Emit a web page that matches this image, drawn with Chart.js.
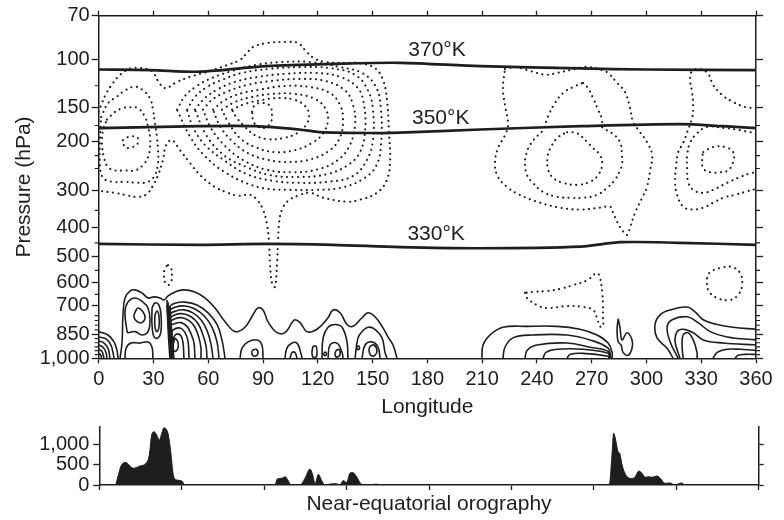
<!DOCTYPE html>
<html lang="en">
<head>
<meta charset="UTF-8" />
<title>Near-equatorial cross-section</title>
<script src="https://cdn.jsdelivr.net/npm/chart.js@4"></script>
<style>
  html, body { margin: 0; padding: 0; background: #fff; }
  #wrap { position: relative; width: 784px; height: 520px; }
  #top { position: absolute; left: 0; top: 0; width: 784px; height: 420px; }
  #bottom { position: absolute; left: 0; top: 420px; width: 784px; height: 100px; }
</style>
</head>
<body>
<div id="wrap">
  <div id="top"><canvas id="section"></canvas></div>
  <div id="bottom"><canvas id="orography"></canvas></div>
</div>
<script>
// ---- axis levels ----
const P_LABELLED = [70, 100, 150, 200, 300, 400, 500, 600, 700, 850, 1000];
const P_LEVELS = [70, 100, 125, 150, 175, 200, 225, 250, 300, 350, 400, 450, 500, 550, 600, 650,
  700, 750, 775, 800, 825, 850, 875, 900, 925, 950, 975, 1000];
// where the labelled levels sit along the pressure axis (0 = top, 1 = bottom)
const P_AXIS_FRAC = [0, 0.1273, 0.2674, 0.3666, 0.5108, 0.6176, 0.7034, 0.7793, 0.8453, 0.9299, 1];
const ORO_TICKS = [0, 500, 1000];

// ---- isentropes [lon, hPa] ----
const TH370 = [[0,109],[28,109.5],[55.5,111],[92,106],[128,104],[165,103],[209,106],[264,108],[300,109],[360,109.5]];
const TH350 = [[0,179],[55,176],[86,176],[110,181],[121,185],[154,186.5],[165,186],[209,181],[264,176],[318,173],[342,176],[360,179]];
const TH330 = [[0,454],[55,457],[92,454],[128,457],[165,465],[209,469],[264,463],[286,448],[318,450],[360,457]];
const THETA_LABELS = ['370°K', '350°K', '330°K'];
const THETA_LABEL_AT = [[185.3, 92.5], [187.3, 163.9], [184.8, 420]];

// ---- dotted (negative) contours [lon, hPa] ----
const W1 = [[13.3,198],[16,193],[21,193],[21.5,203],[18.2,210],[14.4,210]];
const W2 = [[4.5,166.5],[8.9,156],[13.3,151],[17.1,150],[21.5,151],[25.4,163],[27,177],[28.1,193],[28.1,210],[27,228],[24.3,243],[19.9,254],[14.4,254],[8.9,254],[5.1,247],[2.9,228],[1.8,203],[2.4,182]];
const W3 = [[1.3,163],[5.1,145],[10,137],[14.4,130],[19.9,126],[24.3,130],[28.1,139],[29.7,153],[30.8,171],[31.9,193],[32.5,215],[32.5,239],[30.8,264],[27,279],[21.5,281],[14.4,279],[7.8,279],[2.4,270],[0.7,243],[0.7,198]];
const OUTER = [[0,155.8],[1.8,144.6],[4,134],[6.7,125.2],[10.6,116],[14.4,110.4],[18.2,107.7],[22.6,107.7],[26.5,108.6],[29.7,111.3],[32.5,120],[36.3,127.6],[42.9,121],[50,116],[59.3,111.3],[70.3,105],[77.4,100.5],[81.2,94.9],[84.5,90.5],[92.2,87.5],[103.1,86.8],[109.2,87.5],[113,92.7],[117.4,98.6],[124,102.3],[136,103.1],[142,103.1],[151.3,107.7],[155.7,119],[157.9,141],[159,186.8],[159.6,233],[157.9,274],[152.4,305],[143.1,322],[136,327],[122.9,317],[115.7,305],[109.2,312],[103.7,325],[100.4,348],[98.8,386],[98.2,451],[97.7,523],[97.1,590],[96.5,618],[94.9,602],[93.8,523],[93.3,451],[92.2,392],[90,348],[86.7,322],[82.9,310],[76.3,312],[70.8,305],[63.7,291],[55.5,264],[50,239],[44.5,215],[40.1,198],[36.9,206],[35.2,233],[32.5,264],[29.7,288],[26.5,307.6],[21.5,315],[14.4,310],[8.9,305],[5.1,303],[0,300]];
const K1 = [[84,155.8],[85.6,147],[90,144.6],[93.8,148.3],[94.9,160],[93.8,172.5],[89.4,178.8],[85.1,171]];
const K2 = [[73,153],[80.1,145.8],[89.4,141],[99.3,138.6],[107.5,141],[113,148.3],[115.2,160],[113.6,174],[108.6,186.8],[100.9,194.8],[92.7,196.4],[85.6,190],[79,174],[75.2,162.6]];
const K3 = [[67.5,153],[74.7,143.4],[84,137.4],[94.9,134],[107.5,134],[118.5,139.8],[124,151],[125.6,166.5],[122.9,186.8],[116.8,202.8],[107.5,215],[96.5,218.6],[85.6,209.6],[77.4,194.8],[70.8,169.5]];
const K4 = [[62.6,153],[69.2,141],[78.5,133],[89.4,128.8],[102,125.2],[115.7,126.4],[126.7,133],[132.2,147],[133.8,166.5],[132.2,193.2],[126.7,215],[116.8,231.2],[104.8,237],[92.7,233],[81.8,220.4],[73,199.6],[66.4,175.6]];
const K5 = [[57.1,153],[62.6,139.8],[70.8,131],[81.8,124],[94.9,120],[110.3,118],[124,120],[134.9,130],[139.3,147],[140.4,174],[137.6,206],[131.1,233],[120.1,251.8],[105.9,258],[91.1,251.8],[79,233],[69.2,207.8],[61.5,178.8]];
const K6 = [[52.7,153],[58.2,138.6],[65.3,128.8],[74.7,121],[87.2,116],[102,113.1],[118.5,112.2],[132.2,116],[142,127.6],[145.3,147],[145.9,182],[143.1,218.6],[136.5,243],[125,262],[109.2,268],[93.8,264],[81.2,247.4],[69.2,225.8],[59.3,191.6]];
const K7 = [[48.4,153],[52.7,137.4],[59.3,126.4],[67.5,119],[78.5,112.2],[92.7,108.6],[110.3,106.8],[126.7,107.7],[140.4,114],[147.5,130],[150.2,153],[150.2,198],[146.9,233],[139.3,266],[125.6,278.8],[109.2,281.2],[94.9,276.4],[81.2,262],[69.2,235],[58.2,206],[51.6,177.2]];
const K8 = [[42.9,153],[47.3,136.2],[53.8,125.2],[62.1,117],[73,110.4],[85.6,105],[100.4,102.3],[115.7,102.3],[132.2,106.8],[144.2,112.2],[151.9,126.4],[154.6,153],[154.6,206],[151.9,245.2],[144.2,274],[132.2,293.2],[118.5,298],[104.8,298],[92.7,295.6],[81.8,283.6],[69.2,258],[58.2,226],[50,192]];
const E1 = [[222.5,108.6],[228,106.8],[234.6,109.5],[240,112.2],[245.5,114],[251,112.2],[258.1,109.5],[265.3,106.8],[269.1,106.8],[275.7,109.5],[279,112.2],[283.9,122],[288.3,132],[291,151],[292.7,169.5],[296.5,185.2],[300.3,201.2],[303.1,224],[302,254],[300.3,290.8],[297.6,317.2],[293.8,356.4],[291,401.6],[289.4,424],[286.6,408],[283.9,382.4],[281.7,356.4],[280.1,340.2],[274.6,342.8],[263.6,348],[252.7,342.8],[241.7,329.8],[230.7,310],[223.6,290.8],[218.2,264],[217.1,237],[218.7,211.4],[222.5,190],[224.2,174],[222.5,147],[221.4,127.6]];
const E2 = [[265.3,122],[268,127.6],[270.7,138.6],[273.5,153],[275.7,166.5],[275.7,177.2],[281.2,186.8],[285.5,201.2],[286.6,224],[286.6,243],[285.5,254],[282.8,274],[278.4,293.2],[272.9,310],[265.3,317.2],[258.1,317.2],[251,314.8],[243.3,302.8],[237.8,281.2],[234.6,264],[233.5,243],[234,224],[236.2,206],[240.6,190],[243.3,182],[246,162.6],[249.9,144.6],[254.3,133],[259.8,126.4]];
const E3 = [[256.5,185.2],[262,186.8],[267.5,201.2],[270.7,211.4],[274.6,224],[275.7,243],[273.5,264],[269.1,278.8],[262,286],[254.3,281.2],[248.8,270],[246,249.6],[246,224],[248.3,206],[251.6,193.2]];
const E4 = [[360,151],[354,149.6],[347.5,143.4],[341.4,135],[336.5,124],[333.8,113.1],[329.4,108.6],[325,110.4],[323.9,119],[325,132],[325.6,147],[325,163.9],[322.3,185.2],[320.1,202.8],[317.4,218.6],[316.3,243],[315.7,281.2],[316.8,310],[320.1,340.2],[325,348],[331.1,342.8],[336.5,329.8],[342,317.2],[348.5,310],[354,302.8],[360,295.6]];
const E5 = [[360,186.8],[356.8,185.2],[351.3,182],[343.1,178.8],[333.2,177.2],[327.7,186.8],[323.9,202.8],[322.3,224],[322.3,249.6],[322.8,278.8],[325.6,298],[331.1,305.2],[336.5,298],[344.2,281.2],[350.2,270],[356.8,260],[360,258]];
const E6 = [[331.1,218.6],[336.5,209.6],[343.1,209.6],[347.5,218.6],[347.5,237],[344.7,254],[340.4,258],[334.9,258],[331.1,249.6],[330.5,229.6]];
const D1 = [[38,530],[39.6,541.5],[40.1,569],[39.6,598],[38,610],[36.3,598],[35.8,569],[36.3,541.5]];
const D3 = [[233.5,643],[234.6,666],[240,699],[245.5,713],[256.5,703.5],[265.3,708],[270.7,722],[272.9,761],[274.6,806],[276.2,806],[276.2,761],[276.2,699],[275.7,639],[274.6,581],[272.9,561],[267.5,590],[259.8,610],[252.7,626],[245.5,635],[237.8,639]];
const D4 = [[333.2,581],[334.9,557],[340.4,541.5],[346.9,537.7],[351.3,561],[352.4,610],[350.2,652],[345.8,675],[338.7,666],[333.8,630]];

// ---- solid (positive) contours [lon, hPa] ----
const SA1 = [[0,835],[5.1,854],[8.4,895],[10,948],[10.6,1000]];
const SA2 = [[0,866],[4,877],[6.7,914],[7.8,961],[8.4,1000]];
const SA3 = [[0,889],[2.9,902],[5.1,934],[6.2,1000]];
const SA4 = [[0,914],[2.4,928],[4,961],[4.5,1000]];
const SA5 = [[0,941],[1.8,954],[2.9,1000]];
const SA6 = [[0,967],[1.3,980],[1.5,1000]];
const S1 = [[11.7,1000],[12.8,895],[13.3,746],[14.4,666],[17.1,635],[19.9,630],[23.7,643],[27,666],[30.3,661],[33.6,666],[35.8,675],[38,656],[41.8,639],[46.2,630],[52.7,639],[58.2,666],[63.7,713],[69.2,781],[74.7,835],[80.1,811],[84.5,746],[87.2,713],[90,722],[92.7,781],[97.7,841],[102,841],[105.9,786],[107.5,771],[110.3,786],[114.1,835],[119.6,822],[125.6,761],[128.3,722],[132.2,736],[136,796],[139.3,806],[144.2,761],[147.5,736],[151.3,756],[155.2,806],[158.5,866],[161.2,914],[163.4,1000]];
const S1B = [[15.5,835],[14.4,732],[16,685],[19.9,666],[24.3,685],[27,713],[28.1,771],[27,835],[23.7,854],[19.9,835],[16,841]];
const S1C = [[19.9,732],[21.5,713],[24.3,732],[25.4,761],[23.7,786],[21,781],[19.3,756]];
const S1D = [[14.4,1000],[15,934],[17.7,902],[22.6,902],[27,895],[29.2,928],[29.7,1000]];
const NL1 = [[29.2,713],[30.8,689],[33,699],[34.1,746],[34.1,835],[32.5,871],[30.3,866],[29.2,796]];
const NL2 = [[30.8,746],[31.9,727],[33,751],[33,811],[31.9,835],[30.8,806]];
const A1 = [[40.7,1000],[39.6,822],[39,708],[42.3,689],[47.3,685],[53.8,699],[59.9,736.5],[64.8,796],[67.5,883],[69.2,1000]];
const A2 = [[40.7,1000],[39.6,835],[39,727],[42.3,708],[47.3,703.5],[52.7,717.6],[57.7,751],[62.1,811],[64.8,895],[65.9,1000]];
const A3 = [[40.7,1000],[39.6,848],[39,746],[42.3,727],[46.7,722],[51.6,736.5],[56,771],[59.3,828],[61.5,908],[62.6,1000]];
const A4 = [[40.7,1000],[39.6,860],[39,766],[41.8,746],[46.2,741],[50.6,756],[54.4,791],[57.1,854],[58.8,921],[59.3,1000]];
const A5 = [[40.7,1000],[39.6,871],[39,786],[41.8,766],[45.6,761],[49.5,776],[52.7,811],[54.9,871],[56,934],[56,1000]];
const A6 = [[40.7,1000],[39.6,889],[39,806],[41.8,791],[45.1,786],[48.4,806],[50.6,848],[52.2,902],[52.7,1000]];
const A7 = [[40.7,1000],[40.1,902],[40.1,835],[42.3,817],[45.1,817],[47.3,841],[48.9,889],[49.5,1000]];
const A8 = [[40.7,1000],[40.7,914],[41.2,866],[42.9,848],[45.1,860],[46.2,902],[46.7,1000]];
const WALL1 = [[37.4,675],[38,822],[39,1000]];
const WALL2 = [[38,685],[38.5,822],[39.6,1000]];
const WALL3 = [[37.4,699],[38.5,850],[39.6,1000]];
const WALL4 = [[38,699],[39,850],[40.1,1000]];
const WALL5 = [[38.5,703],[39.6,850],[40.7,1000]];
const WALL6 = [[39,703],[40.1,850],[41.2,1000]];
const WL = [[41.8,871],[43.4,895],[43.4,934],[41.8,954],[40.7,921]];
const H3 = [[77.4,1000],[78.5,934],[81.8,895],[86.7,883],[89.4,914],[90,1000]];
const L3 = [[84,948],[86.2,941],[87.2,967],[85.6,986],[84,974]];
const H4 = [[102,1000],[103.1,934],[105.9,902],[108.6,902],[110.3,948],[111.4,1000]];
const H4I = [[104.8,1000],[105.9,961],[107.5,961],[108.6,1000]];
const V4 = [[117.4,921],[119,921],[119.6,961],[119,992],[117.4,992],[116.8,961]];
const T4 = [[123.4,961],[124.5,961],[124.5,980],[123.4,980]];
const H5 = [[122.3,1000],[122.9,871],[125.6,811],[129.4,796],[133.3,811],[136,895],[136.5,1000]];
const H5I = [[125.6,1000],[126.7,914],[130.5,902],[133.3,961],[133.8,1000]];
const L5 = [[130,948],[131.6,941],[132.2,974],[130.5,992],[129.4,974]];
const H6 = [[140.4,1000],[142,871],[144.2,835],[147.5,811],[151.3,822],[155.2,871],[156.8,961],[157.9,1000]];
const H6I = [[144.2,1000],[145.9,914],[149.7,895],[153,928],[154.1,1000]];
const L6 = [[148.6,921],[150.8,914],[152.4,948],[151.3,980],[149.1,980],[148,948]];
const T6 = [[141.5,921],[142.6,921],[142.6,941],[141.5,941]];
const RO1 = [[209.9,1000],[210.5,914],[214.3,854],[221.4,811],[234.6,806],[251,806],[263.6,822],[272.9,854],[279,902],[281.2,961],[281.2,1000]];
const RO2 = [[221.4,1000],[222.5,928],[226.9,871],[237.8,854],[256.5,854],[269.1,883],[279,934],[280.6,1000]];
const RO3 = [[233.5,1000],[234.6,948],[240,914],[256.5,902],[269.1,928],[279,954],[280.1,1000]];
const RO4 = [[243.3,1000],[245,961],[251,941],[265.3,941],[279,967],[279.8,1000]];
const RO5 = [[256.5,1000],[258.1,974],[265.3,967],[279,986],[279.5,1000]];
const BLOB = [[284.5,766],[285.5,811],[286.6,883],[289.4,841],[292.1,883],[292.1,934],[289.9,980],[287.2,961],[286.1,914],[284.5,895],[283.9,828]];
const R1 = [[314.6,1000],[311.3,934],[305.8,871],[304.7,796],[307.5,746],[313,722],[322.3,708],[326.6,732],[331.1,771],[338.7,796],[347.5,811],[360,822]];
const R2 = [[317.4,1000],[313,895],[311.3,811],[314.1,771],[322.3,756],[328.3,786],[334.9,835],[344.2,866],[360,883]];
const R3 = [[318.4,1000],[315.7,895],[316.8,835],[320.1,822],[325.6,841],[331.1,883],[342,902],[360,914]];
const R4 = [[320.1,1000],[319.5,914],[320.1,854],[322.8,841],[325.6,883],[327.7,961],[327.7,1000]];
const R5 = [[336.5,1000],[338.7,961],[344.2,941],[351.3,941],[360,948]];
const R6 = [[348.5,1000],[350.2,980],[354,974],[360,974]];

const DOTTED_LOOPS = [W1, W2, W3, K1, K2, K3, K4, K5, K6, K7, K8, E1, E2, E3, E6, D1, D3, D4];
const DOTTED_OPEN = [OUTER, E4, E5];
const SOLID_LOOPS = [S1B, S1C, NL1, NL2, WL, L3, V4, T4, L5, L6, T6, BLOB];
const SOLID_OPEN = [SA1, SA2, SA3, SA4, SA5, SA6, S1, S1D, A1, A2, A3, A4, A5, A6, A7, A8,
  WALL1, WALL2, WALL3, WALL4, WALL5, WALL6,
  H3, H4, H4I, H5, H5I, H6, H6I, RO1, RO2, RO3, RO4, RO5, R1, R2, R3, R4, R5, R6];
const ISENTROPES = [TH370, TH350, TH330];

// ---- orography (lon, metres) ----
const ORO_LON = [0, 8.6, 10.4, 11.7, 14.6, 15.8, 18.6, 22.2, 25.5, 27.3, 28.6, 29.9, 31.3, 32.8, 34.1, 35.3, 36.8, 37.7, 39, 40.4,
  42.3, 45, 46.8, 95.9, 97.2, 99.6, 101.4, 103.2, 104.5, 109.6, 112.3, 115, 116.5, 117.8, 119.6, 121.4, 123.2, 126.9, 129.6, 131.4,
  133.2, 135, 136.9, 138.3, 140.5, 142.3, 144.1, 151.4, 153.2, 278.4, 279.9, 280.8, 282.1, 283.2, 284.1, 285.4, 286.6, 288.1, 290.8, 292.6,
  294.5, 296.3, 298.1, 299.9, 301.7, 304.5, 306.3, 308.7, 311.7, 314.1, 318.1, 319.6, 360];
const ORO_M = [0, 0, 244, 447, 553, 505, 407, 463, 528, 732, 1220, 1300, 1220, 1098, 1260, 1398, 1341, 1220, 812, 244,
  122, 100, 0, 0, 146, 163, 203, 98, 0, 0, 163, 390, 244, 30, 260, 110, 0, 30, 30, 0,
  110, 60, 290, 305, 200, 60, 0, 20, 0, 0, 732, 1260, 1057, 812, 773, 488, 325, 203, 160, 203,
  341, 285, 188, 203, 188, 220, 163, 41, 50, 0, 50, 0, 0];

const INK = '#1e1e1e';
const FONT = '"Liberation Sans", Arial, Helvetica, sans-serif';
Chart.defaults.font.family = FONT;
Chart.defaults.color = INK;

// pressure axis: piecewise in log p between the labelled levels
const LOG_CAL = P_LABELLED.map(Math.log);
function pFrac(p) {
  const lp = Math.log(p);
  let i = 0;
  while (i < LOG_CAL.length - 2 && lp > LOG_CAL[i + 1]) i++;
  const t = (lp - LOG_CAL[i]) / (LOG_CAL[i + 1] - LOG_CAL[i]);
  return P_AXIS_FRAC[i] + t * (P_AXIS_FRAC[i + 1] - P_AXIS_FRAC[i]);
}
function fracP(f) {
  let i = 0;
  while (i < P_AXIS_FRAC.length - 2 && f > P_AXIS_FRAC[i + 1]) i++;
  const t = (f - P_AXIS_FRAC[i]) / (P_AXIS_FRAC[i + 1] - P_AXIS_FRAC[i]);
  return Math.exp(LOG_CAL[i] + t * (LOG_CAL[i + 1] - LOG_CAL[i]));
}

class PressureScale extends Chart.LinearScale {
  buildTicks() {
    return P_LEVELS.map(v => ({ value: v }));
  }
  getPixelForValue(v) {
    return this.getPixelForDecimal(pFrac(v));
  }
  getValueForPixel(px) {
    return fracP(this.getDecimalForPixel(px));
  }
}
PressureScale.id = 'pressure';
PressureScale.defaults = Chart.LinearScale.defaults;
Chart.register(PressureScale);

function fixBox(w, h) {
  return s => {
    if (w !== null) s.width = w;
    if (h !== null) s.height = h;
    s.paddingLeft = s.paddingRight = s.paddingTop = s.paddingBottom = 0;
  };
}
const majorTick = c => P_LABELLED.includes(c.tick.value) ? INK : 'rgba(0,0,0,0)';

// datasets
const datasets = [];
function add(points, style) {
  datasets.push(Object.assign({
    data: points.map(([x, y]) => ({ x, y })),
    xAxisID: 'x', yAxisID: 'y',
    pointRadius: 0, fill: false, borderColor: INK, tension: 0.4
  }, style));
}
const DOT = { borderWidth: 2.1, borderDash: [0.1, 5.4], borderCapStyle: 'round' };
const LINE = { borderWidth: 1.6 };
const THETA = { borderWidth: 2.7, tension: 0.3 };
DOTTED_LOOPS.forEach(c => add(c.concat([c[0]]), DOT));
DOTTED_OPEN.forEach(c => add(c, DOT));
SOLID_LOOPS.forEach(c => add(c.concat([c[0]]), LINE));
SOLID_OPEN.forEach(c => add(c, LINE));
ISENTROPES.forEach(c => add(c, THETA));

// labels on isentropes + short minor ticks on the pressure axes
const sectionMarks = {
  id: 'sectionMarks',
  afterDatasetsDraw(chart) {
    const { ctx } = chart;
    const xs = chart.scales.x, ys = chart.scales.y, ys2 = chart.scales.y2;
    ctx.save();
    ctx.fillStyle = INK;
    ctx.font = '21px ' + FONT;
    ctx.textAlign = 'center';
    ctx.textBaseline = 'middle';
    THETA_LABELS.forEach((t, i) => {
      const [lon, p] = THETA_LABEL_AT[i];
      ctx.fillText(t, xs.getPixelForValue(lon), ys.getPixelForValue(p));
    });
    ctx.strokeStyle = INK;
    ctx.lineWidth = 1.2;
    P_LEVELS.filter(v => !P_LABELLED.includes(v)).forEach(v => {
      const py = ys.getPixelForValue(v);
      ctx.beginPath();
      ctx.moveTo(ys.right - 4, py); ctx.lineTo(ys.right, py);
      ctx.moveTo(ys2.left, py); ctx.lineTo(ys2.left + 4, py);
      ctx.stroke();
    });
    ctx.restore();
  }
};

const axisGrid = { drawOnChartArea: false, color: INK, tickWidth: 1.3 };
const axisBorder = { display: true, color: INK, width: 1.5 };

new Chart(document.getElementById('section'), {
  type: 'line',
  data: { datasets },
  plugins: [sectionMarks],
  options: {
    animation: false,
    responsive: true,
    maintainAspectRatio: false,
    events: [],
    layout: { padding: 0 },
    plugins: { legend: { display: false }, tooltip: { enabled: false } },
    scales: {
      x: {
        type: 'linear', position: 'bottom', min: 0, max: 360,
        ticks: { stepSize: 30, autoSkip: false, maxRotation: 0, padding: 4, font: { size: 20 } },
        grid: Object.assign({ tickLength: 5 }, axisGrid),
        border: axisBorder,
        title: { display: true, text: 'Longitude', font: { size: 21 }, padding: { top: 0, bottom: 0 } },
        afterFit: fixBox(null, 61.7)
      },
      x2: {
        type: 'linear', position: 'top', min: 0, max: 360,
        ticks: { stepSize: 30, display: false },
        grid: Object.assign({ tickLength: 5 }, axisGrid),
        border: axisBorder,
        afterFit: fixBox(null, 15.7)
      },
      y: {
        type: 'pressure', position: 'left', min: 70, max: 1000, reverse: true,
        ticks: { autoSkip: false, padding: 2, font: { size: 20 },
          callback: v => P_LABELLED.includes(v) ? v.toLocaleString('en-US') : '' },
        grid: Object.assign({ tickLength: 7, tickColor: majorTick }, axisGrid),
        border: axisBorder,
        title: { display: true, text: 'Pressure (hPa)', font: { size: 21 }, padding: { top: 12, bottom: 0 } },
        afterFit: fixBox(98.7, null)
      },
      y2: {
        type: 'pressure', position: 'right', min: 70, max: 1000, reverse: true,
        ticks: { display: false, autoSkip: false },
        grid: Object.assign({ tickLength: 7, tickColor: majorTick }, axisGrid),
        border: axisBorder,
        afterFit: fixBox(28, null)
      }
    }
  }
});

// orography panel
const oroTicks = s => { s.ticks = ORO_TICKS.map(v => ({ value: v })); };
new Chart(document.getElementById('orography'), {
  type: 'line',
  data: {
    datasets: [{
      data: ORO_LON.map((x, i) => ({ x, y: ORO_M[i] })),
      fill: 'origin', backgroundColor: INK, borderColor: INK, borderWidth: 1,
      pointRadius: 0, cubicInterpolationMode: 'monotone'
    }]
  },
  options: {
    animation: false,
    responsive: true,
    maintainAspectRatio: false,
    events: [],
    layout: { padding: { top: 7 } },
    plugins: { legend: { display: false }, tooltip: { enabled: false } },
    scales: {
      x: {
        type: 'linear', min: 0, max: 360,
        ticks: { stepSize: 45, display: false },
        grid: Object.assign({ tickLength: 5 }, axisGrid),
        border: axisBorder,
        title: { display: true, text: 'Near-equatorial orography', font: { size: 21 }, padding: { top: 0, bottom: 3 } },
        afterFit: fixBox(null, 35)
      },
      y: {
        type: 'linear', position: 'left', min: 0, max: 1415,
        afterBuildTicks: oroTicks,
        ticks: { padding: 4, font: { size: 20 }, callback: v => v.toLocaleString('en-US') },
        grid: Object.assign({ tickLength: 6 }, axisGrid),
        border: axisBorder,
        afterFit: fixBox(99.3, null)
      },
      y2: {
        type: 'linear', position: 'right', min: 0, max: 1415,
        afterBuildTicks: oroTicks,
        ticks: { display: false },
        grid: Object.assign({ tickLength: 5 }, axisGrid),
        border: axisBorder,
        afterFit: fixBox(25.3, null)
      }
    }
  }
});
</script>
</body>
</html>
